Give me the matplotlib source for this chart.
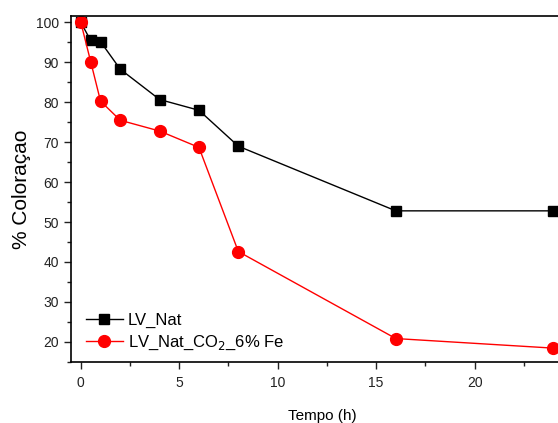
import matplotlib
matplotlib.use("Agg")
import matplotlib.pyplot as plt
from matplotlib.ticker import MultipleLocator, FixedLocator

plt.rcParams['font.family'] = ['Liberation Sans', 'DejaVu Sans']

time_h = [0, 0.5, 1, 2, 4, 6, 8, 16, 24]
lv_nat = [100, 95.5, 95.2, 88.3, 80.7, 78.0, 69.0, 52.8, 52.8]
lv_nat_co2_fe = [100, 90.2, 80.3, 75.5, 72.8, 68.7, 42.6, 20.8, 18.4]
labels = ["LV_Nat", "LV_Nat_CO$_2$_6% Fe"]
x_ticks = [0, 5, 10, 15, 20]
y_ticks = [20, 30, 40, 50, 60, 70, 80, 90, 100]

fig = plt.figure(figsize=(5.58, 4.23), dpi=100)
ax = fig.add_axes([71/558, 1-361.7/423, 502/558, (361.7-16.5)/423])

ax.plot(time_h, lv_nat, color='black', marker='s', markersize=7.5, linewidth=1, label=labels[0])
ax.plot(time_h, lv_nat_co2_fe, color='red', marker='o', markersize=8.5, linewidth=1, label=labels[1])

ax.set_xlim(-0.5, 25)
ax.set_ylim(15, 101.5)
ax.xaxis.set_major_locator(FixedLocator(x_ticks))
ax.xaxis.set_minor_locator(FixedLocator([2.5, 7.5, 12.5, 17.5, 22.5]))
ax.yaxis.set_major_locator(FixedLocator(y_ticks))
ax.yaxis.set_minor_locator(MultipleLocator(5))
ax.tick_params(which='both', direction='out', labelsize=10, colors='#222222')
ax.tick_params(which='major', length=5, width=1)
ax.tick_params(which='minor', length=3, width=1)
ax.tick_params(axis='x', pad=5)
for s in ax.spines.values():
    s.set_linewidth(1.2)

ax.set_xlabel("Tempo (h)", fontsize=11, labelpad=14)
ax.set_ylabel("% Coloraçao", fontsize=15, labelpad=4)

ax.legend(loc='lower left', bbox_to_anchor=(0.01, 0.0), frameon=False, fontsize=12,
          handlelength=2.2, handletextpad=0.3, borderaxespad=0.2, labelspacing=0.3)

fig.savefig("out.png", dpi=100)
